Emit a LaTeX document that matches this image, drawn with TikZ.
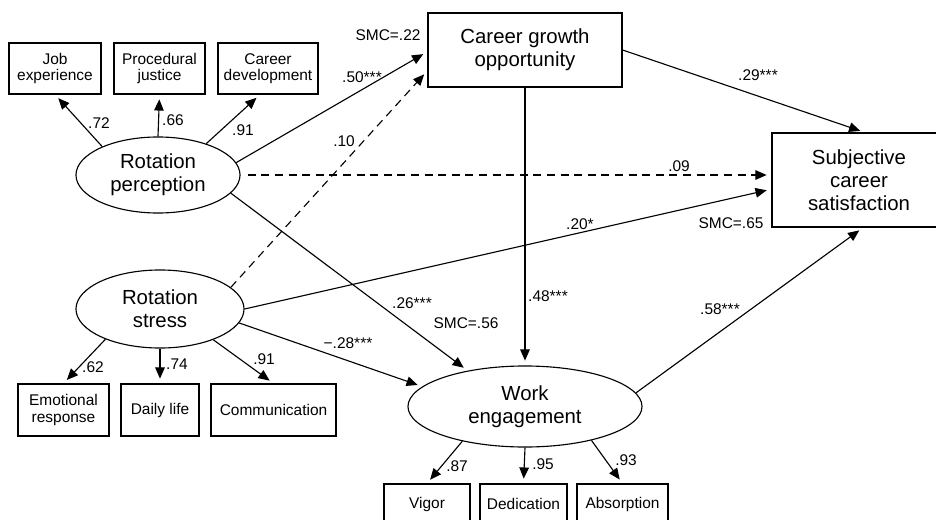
\documentclass[tikz,border=0pt]{standalone}
\usepackage{fontspec}
\setmainfont{Liberation Sans}
\usetikzlibrary{shapes.geometric, arrows.meta, calc}

\begin{document}
\begin{tikzpicture}[
    x=0.025cm, y=-0.025cm,
    every node/.style={font=\fontsize{11}{11.5}\selectfont},
    obsbox/.style={draw, rectangle, fill=white, line width=0.8pt, align=center, inner sep=0pt, minimum height=1.275cm},
    latentell/.style={draw, ellipse, fill=white, line width=0.8pt, align=center, inner sep=0pt, font=\fontsize{14.5}{16.4}\selectfont},
    bigbox/.style={draw, rectangle, fill=white, line width=0.8pt, align=center, inner sep=0pt, font=\fontsize{14.5}{16.4}\selectfont},
    coef/.style={inner sep=0pt},
    arrow/.style={-{Triangle[length=2.8mm, width=2.4mm]}, line width=0.8pt, shorten >=1.2mm},
    dasharrow/.style={arrow, dash pattern=on 2mm off 1.4mm}
]
    \useasboundingbox (0,0) rectangle (936,520);

    % Rotation perception and its indicators
    \node (rotperc) [latentell, minimum width=4.1cm, minimum height=1.9cm] at (158,175) {Rotation\\perception};
    \node (jobexp) [obsbox, minimum width=2.3cm] at (55,68.5) {Job\\experience};
    \node (procjust) [obsbox, minimum width=2.275cm] at (159.5,68.5) {Procedural\\justice};
    \node (careerdev) [obsbox, minimum width=2.5cm] at (268,68.5) {Career\\development};

    % Rotation stress and its indicators
    \node (rotstress) [latentell, minimum width=4.2cm, minimum height=1.95cm] at (160,309) {Rotation\\stress};
    \node (emoresp) [obsbox, minimum width=2.275cm, minimum height=1.3cm] at (63.5,410) {Emotional\\response};
    \node (dailylife) [obsbox, minimum width=1.95cm, minimum height=1.3cm] at (160,410) {Daily life};
    \node (comm) [obsbox, minimum width=3.125cm, minimum height=1.3cm] at (273.5,410) {Communication};

    % Career growth opportunity and outcomes
    \node (cgo) [bigbox, minimum width=4.85cm, minimum height=1.85cm] at (525,50) {Career growth\\opportunity};
    \node (scs) [bigbox, minimum width=4.35cm, minimum height=2.35cm] at (859,180) {Subjective\\career\\satisfaction};

    % Work engagement and its indicators
    \node (workeng) [latentell, minimum width=5.85cm, minimum height=2.025cm] at (525,406.5) {Work\\engagement};
    \node (vigor) [obsbox, minimum width=2.15cm, minimum height=1cm] at (427,504) {Vigor};
    \node (dedication) [obsbox, minimum width=2.175cm, minimum height=1cm] at (523.5,504) {Dedication};
    \node (absorption) [obsbox, minimum width=2.275cm, minimum height=1cm] at (622.5,504) {Absorption};

    % Measurement arrows
    \draw [arrow] (rotperc.153) -- (jobexp.south);
    \draw [arrow] (rotperc.north) -- (procjust.south);
    \draw [arrow] (rotperc.33) -- (careerdev.253);
    \draw [arrow] (rotstress.209) -- (emoresp.north);
    \draw [arrow] (rotstress.south) -- (dailylife.north);
    \draw [arrow] (rotstress.330) -- (comm.north);
    \draw [arrow] (workeng.209) -- (vigor.north);
    \draw [arrow] (workeng.south) -- (dedication.north);
    \draw [arrow] (workeng.333) -- (absorption.north);

    % Structural paths
    \draw [arrow] (rotperc.9) -- (cgo.181);
    \draw [dasharrow] (rotstress.17) -- (cgo.192);
    \draw [dasharrow, shorten <=1.8mm] (rotperc.east) -- (rotperc.east -| scs.west);
    \draw [arrow] (cgo.east) -- (scs.83);
    \draw [arrow] (cgo.south) -- (workeng.north);
    \draw [arrow] (rotstress.east) -- (scs.186);
    \draw [arrow] (rotstress.350) -- (workeng.169);
    \draw [arrow] (rotperc.346) -- (workeng.148);
    \draw [arrow] (workeng.7) -- (scs.275);

    % Loadings
    \node (l72) [coef] at (99,123) {.72};
    \node (l66) [coef] at (173,120) {.66};
    \node (l91a) [coef] at (243,130) {.91};
    \node (l62) [coef] at (93,367) {.62};
    \node (l74) [coef] at (177,364) {.74};
    \node (l91b) [coef] at (264,359) {.91};
    \node (l87) [coef] at (457,466) {.87};
    \node (l95) [coef] at (543,464) {.95};
    \node (l93) [coef] at (626,460) {.93};

    % Path coefficients and SMC
    \node (smc22) [coef] at (388,35) {SMC=.22};
    \node (l50) [coef] at (362,77) {.50***};
    \node (l10) [coef] at (344,141) {.10};
    \node (l09) [coef] at (679,166) {.09};
    \node (l29) [coef] at (758,75) {.29***};
    \node (smc65) [coef] at (731,223) {SMC=.65};
    \node (l20) [coef] at (580,224) {.20*};
    \node (l58) [coef] at (720,309) {.58***};
    \node (l26) [coef] at (412,303) {.26***};
    \node (smc56) [coef] at (466,323) {SMC=.56};
    \node (l48) [coef] at (548,296) {.48***};
    \node (l28) [coef] at (348,343) {−.28***};

\end{tikzpicture}
\end{document}
